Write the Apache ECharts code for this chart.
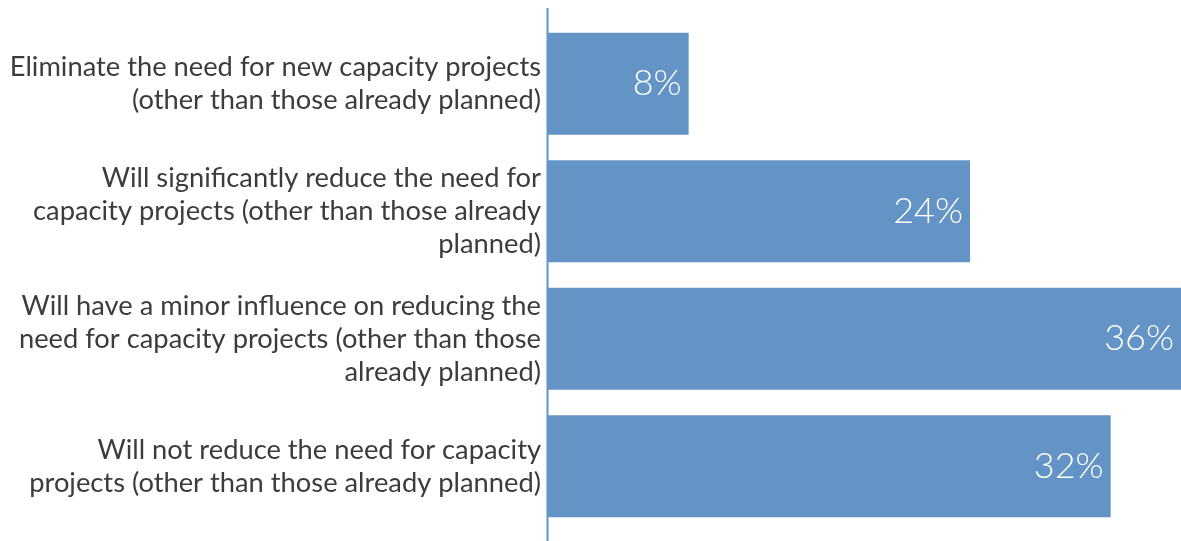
<!DOCTYPE html>
<html><head><meta charset="utf-8">
<script src="https://cdn.jsdelivr.net/npm/echarts@6/dist/echarts.min.js"></script>
<style>html,body{margin:0;padding:0;background:#fff}#c{width:1181px;height:541px}</style>
</head><body><div id="c"></div>
<script>
const categories = [
  "Eliminate the need for new capacity projects\n(other than those already planned)",
  "Will significantly reduce the need for\ncapacity projects (other than those already\nplanned)",
  "Will have a minor influence on reducing the\nneed for capacity projects (other than those\nalready planned)",
  "Will not reduce the need for capacity\nprojects (other than those already planned)"
];
const values = [8, 24, 36, 32];

const chart = echarts.init(document.getElementById('c'), null, {renderer: 'canvas'});
chart.setOption({
  animation: false,
  grid: {left: 548, right: 0, top: 20, bottom: 11, containLabel: false},
  xAxis: {type: 'value', min: 0, max: 36, show: false},
  yAxis: {
    type: 'category', data: categories, inverse: true,
    axisLine: {show: false}, axisTick: {show: false},
    axisLabel: {
      color: '#3c3c3c', fontFamily: 'Lato', fontSize: 27.3, lineHeight: 33,
      align: 'right', margin: 7, padding: [0, 0, 6, 0]
    }
  },
  series: [{
    type: 'bar', data: values, barWidth: 102,
    itemStyle: {color: '#6394c5'},
    label: {
      show: true, position: 'insideRight', distance: 7,
      formatter: '{c}%', color: '#ffffff', fontFamily: 'Lato', fontWeight: 300, fontSize: 36
    }
  }]
});
chart.setOption({
  graphic: [{
    type: 'line', shape: {x1: 547.5, y1: 8, x2: 547.5, y2: 541},
    style: {stroke: '#6394c5', lineWidth: 2}
  }]
});
</script></body></html>
